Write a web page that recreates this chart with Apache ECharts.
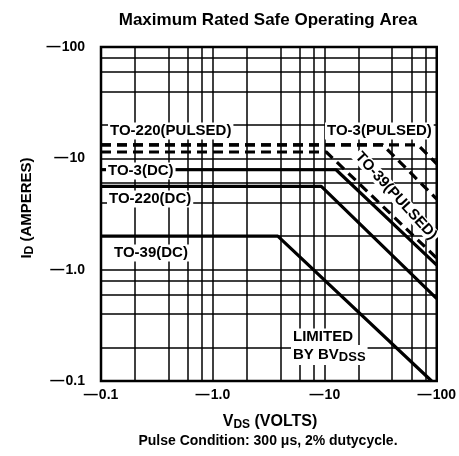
<!DOCTYPE html>
<html>
<head>
<meta charset="utf-8">
<script src="https://cdn.jsdelivr.net/npm/echarts@6/dist/echarts.min.js"></script>
<style>
  html, body { margin: 0; padding: 0; background: #fff; }
  #main { width: 459px; height: 456px; }
</style>
</head>
<body>
<div id="main"></div>
<script>
// 坐标轴刻度 (对数坐标, 图上标成负值)
const xTicks = [0.1, 1, 10, 100]
const xTickLabels = ['—\u200a0.1', '—\u200a1.0', '—\u200a10', '—\u200a100']
const yTicks = [0.1, 1, 10, 100]
const yTickLabels = ['—\u200a0.1', '—\u200a1.0', '—\u200a10', '—\u200a100']
// 每个十倍程里的细网格线 2,4,6,8
const minorGrid = [0.2, 0.4, 0.6, 0.8, 2, 4, 6, 8, 20, 40, 60, 80]

// 各封装的安全工作区边界 [VDS, ID]
const to3Dc = [[0.1, 7.9], [12.6, 7.9], [100, 1.1]]
const to220Dc = [[0.1, 5.6], [9.3, 5.6], [100, 0.55]]
const to39Dc = [[0.1, 2.0], [3.8, 2.0], [90, 0.1]]
const to3Pulsed = [[0.1, 13.2], [68, 13.2], [100, 8.9]]
const to220Pulsed = [[0.1, 13.2], [33, 13.2], [100, 4.3]]
const to39Pulsed = [[0.1, 11.4], [10.3, 11.4], [100, 1.27]]

const FONT = '"Liberation Sans", Arial, sans-serif'

function tickText(ticks, labels) {
  return (v) => {
    const i = ticks.findIndex(t => Math.abs(Math.log10(t) - Math.log10(v)) < 1e-6)
    return i >= 0 ? labels[i] : ''
  }
}

function curve(name, data, dashed) {
  return {
    name: name,
    type: 'line',
    data: data,
    symbol: 'none',
    silent: true,
    z: 5,
    lineStyle: { color: '#000', width: 3.2, type: dashed ? [10, 6] : 'solid' }
  }
}

// 在图内放一段带白底的说明文字
function note(x, y, text) {
  return {
    type: 'text',
    x: x,
    y: y,
    z: 100,
    style: {
      text: text,
      font: 'bold 15px ' + FONT,
      fill: '#000',
      backgroundColor: '#fff',
      padding: [1, 2],
      verticalAlign: 'middle'
    }
  }
}

const myChart = echarts.init(document.getElementById('main'))
const option = {
  backgroundColor: '#fff',
  animation: false,
  grid: {
    left: 101, right: 17, top: 47, bottom: 75,
    show: true, borderColor: '#000', borderWidth: 2.5
  },
  xAxis: {
    type: 'log', logBase: 10, min: 0.1, max: 100,
    axisLine: { show: false },
    axisTick: { show: false },
    splitLine: { show: true, lineStyle: { color: '#000', width: 1.5 } },
    axisLabel: {
      formatter: tickText(xTicks, xTickLabels),
      color: '#000', fontFamily: FONT, fontWeight: 'bold', fontSize: 14, margin: 7
    }
  },
  yAxis: {
    type: 'log', logBase: 10, min: 0.1, max: 100,
    axisLine: { show: false },
    axisTick: { show: false },
    splitLine: { show: true, lineStyle: { color: '#000', width: 1.5 } },
    axisLabel: {
      formatter: tickText(yTicks, yTickLabels),
      color: '#000', fontFamily: FONT, fontWeight: 'bold', fontSize: 14, margin: 16
    }
  },
  series: [
    {
      // 细网格线
      type: 'line',
      data: [],
      silent: true,
      markLine: {
        silent: true,
        symbol: 'none',
        label: { show: false },
        lineStyle: { color: '#000', width: 1.5, type: 'solid' },
        data: minorGrid.map(v => ({ xAxis: v })).concat(minorGrid.map(v => ({ yAxis: v })))
      }
    },
    curve('TO-3(DC)', to3Dc, false),
    curve('TO-220(DC)', to220Dc, false),
    curve('TO-39(DC)', to39Dc, false),
    curve('TO-3(PULSED)', to3Pulsed, true),
    curve('TO-220(PULSED)', to220Pulsed, true),
    curve('TO-39(PULSED)', to39Pulsed, true)
  ],
  graphic: [
    {
      type: 'text', x: 268, y: 20,
      style: {
        text: 'Maximum Rated Safe Operating Area',
        font: 'bold 17px ' + FONT, fill: '#000', align: 'center', verticalAlign: 'middle'
      }
    },
    {
      type: 'text', x: 270, y: 422,
      style: {
        text: '{n|V}{s|DS}{n| (VOLTS)}',
        align: 'center', verticalAlign: 'middle',
        rich: {
          n: { fontFamily: FONT, fontWeight: 'bold', fontSize: 16, color: '#000' },
          s: { fontFamily: FONT, fontWeight: 'bold', fontSize: 12, color: '#000', padding: [6, 0, 0, 0] }
        }
      }
    },
    {
      type: 'text', x: 268, y: 441,
      style: {
        text: 'Pulse Condition: 300 μs, 2% dutycycle.',
        font: 'bold 14px ' + FONT, fill: '#000', align: 'center', verticalAlign: 'middle'
      }
    },
    {
      type: 'text', x: 27, y: 208, rotation: Math.PI / 2,
      style: {
        text: '{n|I}{s|D}{n| (AMPERES)}',
        align: 'center', verticalAlign: 'middle',
        rich: {
          n: { fontFamily: FONT, fontWeight: 'bold', fontSize: 15, color: '#000' },
          s: { fontFamily: FONT, fontWeight: 'bold', fontSize: 12, color: '#000', padding: [6, 0, 0, 0] }
        }
      }
    },
    note(108, 131, 'TO-220(PULSED)'),
    note(325, 131, 'TO-3(PULSED)'),
    note(106, 171, 'TO-3(DC)'),
    note(107, 199, 'TO-220(DC)'),
    note(112, 253, 'TO-39(DC)'),
    note(291, 337, 'LIMITED'),
    {
      type: 'text', x: 291, y: 355, z: 100,
      style: {
        text: '{n|BY BV}{s|DSS}',
        verticalAlign: 'middle',
        backgroundColor: '#fff', padding: [1, 2],
        rich: {
          n: { fontFamily: FONT, fontWeight: 'bold', fontSize: 15, color: '#000' },
          s: { fontFamily: FONT, fontWeight: 'bold', fontSize: 13, color: '#000', padding: [5, 0, 0, 0] }
        }
      }
    },
    {
      type: 'text', x: 396, y: 196, z: 100, rotation: -0.83,
      style: {
        text: 'TO-39(PULSED)',
        font: 'bold 15px ' + FONT, fill: '#000',
        align: 'center', verticalAlign: 'middle',
        backgroundColor: '#fff', padding: [0, 2]
      }
    }
  ]
}

option && myChart.setOption(option)
window.addEventListener('resize', () => {
  myChart.resize()
})
</script>
</body>
</html>
